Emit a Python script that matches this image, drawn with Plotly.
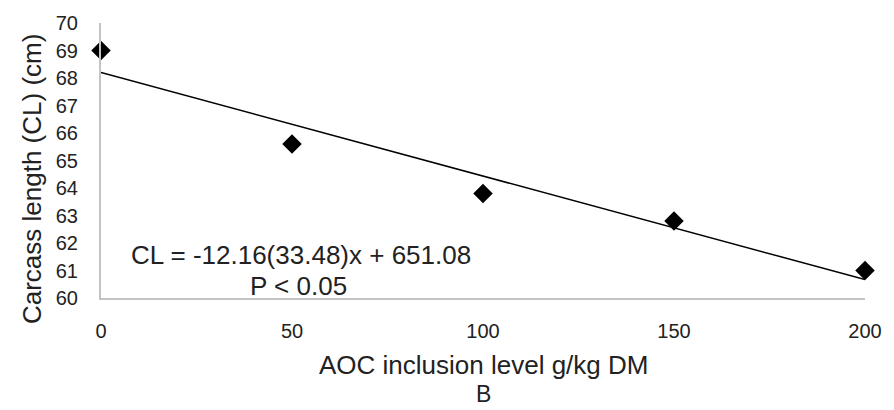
import plotly.graph_objects as go

# Data
aoc_level = [0, 50, 100, 150, 200]
carcass_length = [69.0, 65.6, 63.8, 62.8, 61.0]
trend_x = [0, 200]
trend_y = [68.2, 60.67]
x_ticks = [0, 50, 100, 150, 200]
y_ticks = [60, 61, 62, 63, 64, 65, 66, 67, 68, 69, 70]

W, H = 894, 410
ML, MR, MT, MB = 101, 27, 16, 112
PW = W - ML - MR
PH = H - MT - MB

fig = go.Figure()
fig.add_trace(go.Scatter(
    x=trend_x, y=trend_y, mode="lines",
    line=dict(color="black", width=1.5),
    hoverinfo="skip", showlegend=False, cliponaxis=False,
))
fig.add_trace(go.Scatter(
    x=aoc_level, y=carcass_length, mode="markers",
    marker=dict(symbol="diamond", size=15, color="black"),
    showlegend=False, cliponaxis=False,
))

font = "Liberation Sans, Arial, sans-serif"

def py(pix_y):
    return (H - MB - pix_y) / PH

fig.update_layout(
    width=W, height=H,
    margin=dict(l=ML, r=MR, t=MT, b=MB, pad=0),
    paper_bgcolor="white", plot_bgcolor="white",
    font=dict(family=font, color="#222222"),
    xaxis=dict(
        range=[0, 200], tickvals=x_ticks, showgrid=False, zeroline=False,
        showline=True, linecolor="#c4c4c4", linewidth=2,
        ticks="", tickfont=dict(size=20, family=font, color="#222222"),
        ticklabelstandoff=14,
    ),
    yaxis=dict(
        range=[60, 70], tickvals=y_ticks, showgrid=False, zeroline=False,
        showline=True, linecolor="#c4c4c4", linewidth=2,
        ticks="", tickfont=dict(size=20, family=font, color="#222222"),
        ticklabelstandoff=17,
    ),
    annotations=[
        dict(text="Carcass length (CL) (cm)", xref="paper", yref="paper",
             x=0, y=py(176), xshift=-69, textangle=-90, showarrow=False,
             xanchor="center", yanchor="middle",
             font=dict(size=26, family=font, color="#222222")),
        dict(text="AOC inclusion level g/kg DM", xref="paper", yref="paper",
             x=0.5, y=py(367), showarrow=False, xanchor="center", yanchor="middle",
             font=dict(size=26, family=font, color="#222222")),
        dict(text="B", xref="paper", yref="paper",
             x=0.5, y=py(396), showarrow=False, xanchor="center", yanchor="middle",
             font=dict(size=23, family=font, color="#222222")),
        dict(text="CL = -12.16(33.48)x + 651.08", xref="paper", yref="paper",
             x=(301.5 - ML) / PW, y=py(254), showarrow=False,
             xanchor="center", yanchor="middle",
             font=dict(size=26, family=font, color="#222222")),
        dict(text="P < 0.05", xref="paper", yref="paper",
             x=(299 - ML) / PW, y=py(286), showarrow=False,
             xanchor="center", yanchor="middle",
             font=dict(size=26, family=font, color="#222222")),
    ],
)

fig.write_html("out.html")
